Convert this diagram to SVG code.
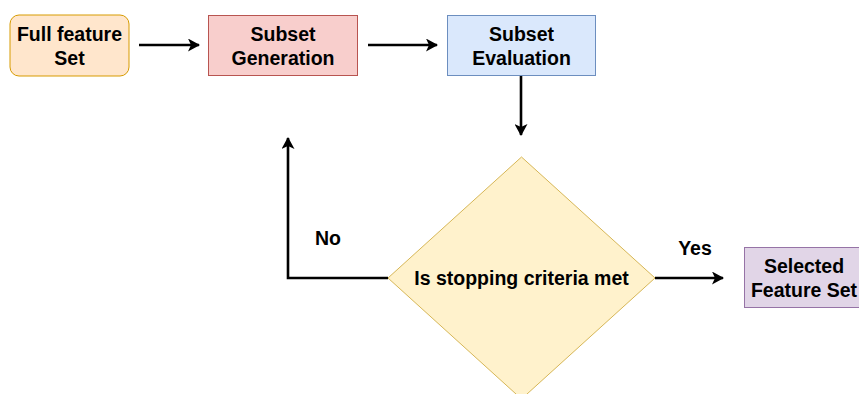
<svg xmlns="http://www.w3.org/2000/svg" width="859" height="394" viewBox="0 0 859 394">
<style>
text{font-family:"Liberation Sans",Arial,sans-serif;font-weight:bold;font-size:19.5px;fill:#000;text-anchor:middle}
.e{fill:none;stroke:#000;stroke-width:2.6}
</style>
<defs>
<marker id="ah" viewBox="0 0 12 13" refX="11" refY="6.5" markerWidth="12" markerHeight="13" orient="auto" markerUnits="userSpaceOnUse">
<path d="M0,0 L12,6.5 L0,13 L3,6.5 Z" fill="#000"/>
</marker>
</defs>
<rect width="859" height="394" fill="#fff"/>
<g id="connectors">
<path class="e" d="M139,45 H199" marker-end="url(#ah)"/>
<path class="e" d="M368,45 H437" marker-end="url(#ah)"/>
<path class="e" d="M521,76 V135" marker-end="url(#ah)"/>
<path class="e" d="M388,278 H288 V138" marker-end="url(#ah)"/>
<path class="e" d="M655,278 H723" marker-end="url(#ah)"/>
<text x="328" y="245">No</text>
<text x="695" y="255">Yes</text>
</g>
<g id="full">
<rect x="10" y="15" width="119" height="61" rx="9" fill="#ffe6cc" stroke="#d79b00"/>
<text x="69.5" y="41">Full feature</text>
<text x="69.5" y="65">Set</text>
</g>
<g id="gen">
<rect x="208.5" y="15.5" width="149" height="60" fill="#f8cecc" stroke="#b85450"/>
<text x="283" y="41">Subset</text>
<text x="283" y="65">Generation</text>
</g>
<g id="eval">
<rect x="447.5" y="15.5" width="148" height="60" fill="#dae8fc" stroke="#6c8ebf"/>
<text x="521.5" y="41">Subset</text>
<text x="521.5" y="65">Evaluation</text>
</g>
<g id="decision">
<path d="M521.5,157 L655,278 L521.5,399 L388,278 Z" fill="#fff2cc" stroke="#d6b656"/>
<text x="521.5" y="285">Is stopping criteria met</text>
</g>
<g id="selected">
<rect x="744.5" y="247.5" width="120" height="60" fill="#e1d5e7" stroke="#9673a6"/>
<text x="804" y="273">Selected</text>
<text x="804" y="297">Feature Set</text>
</g>
</svg>
